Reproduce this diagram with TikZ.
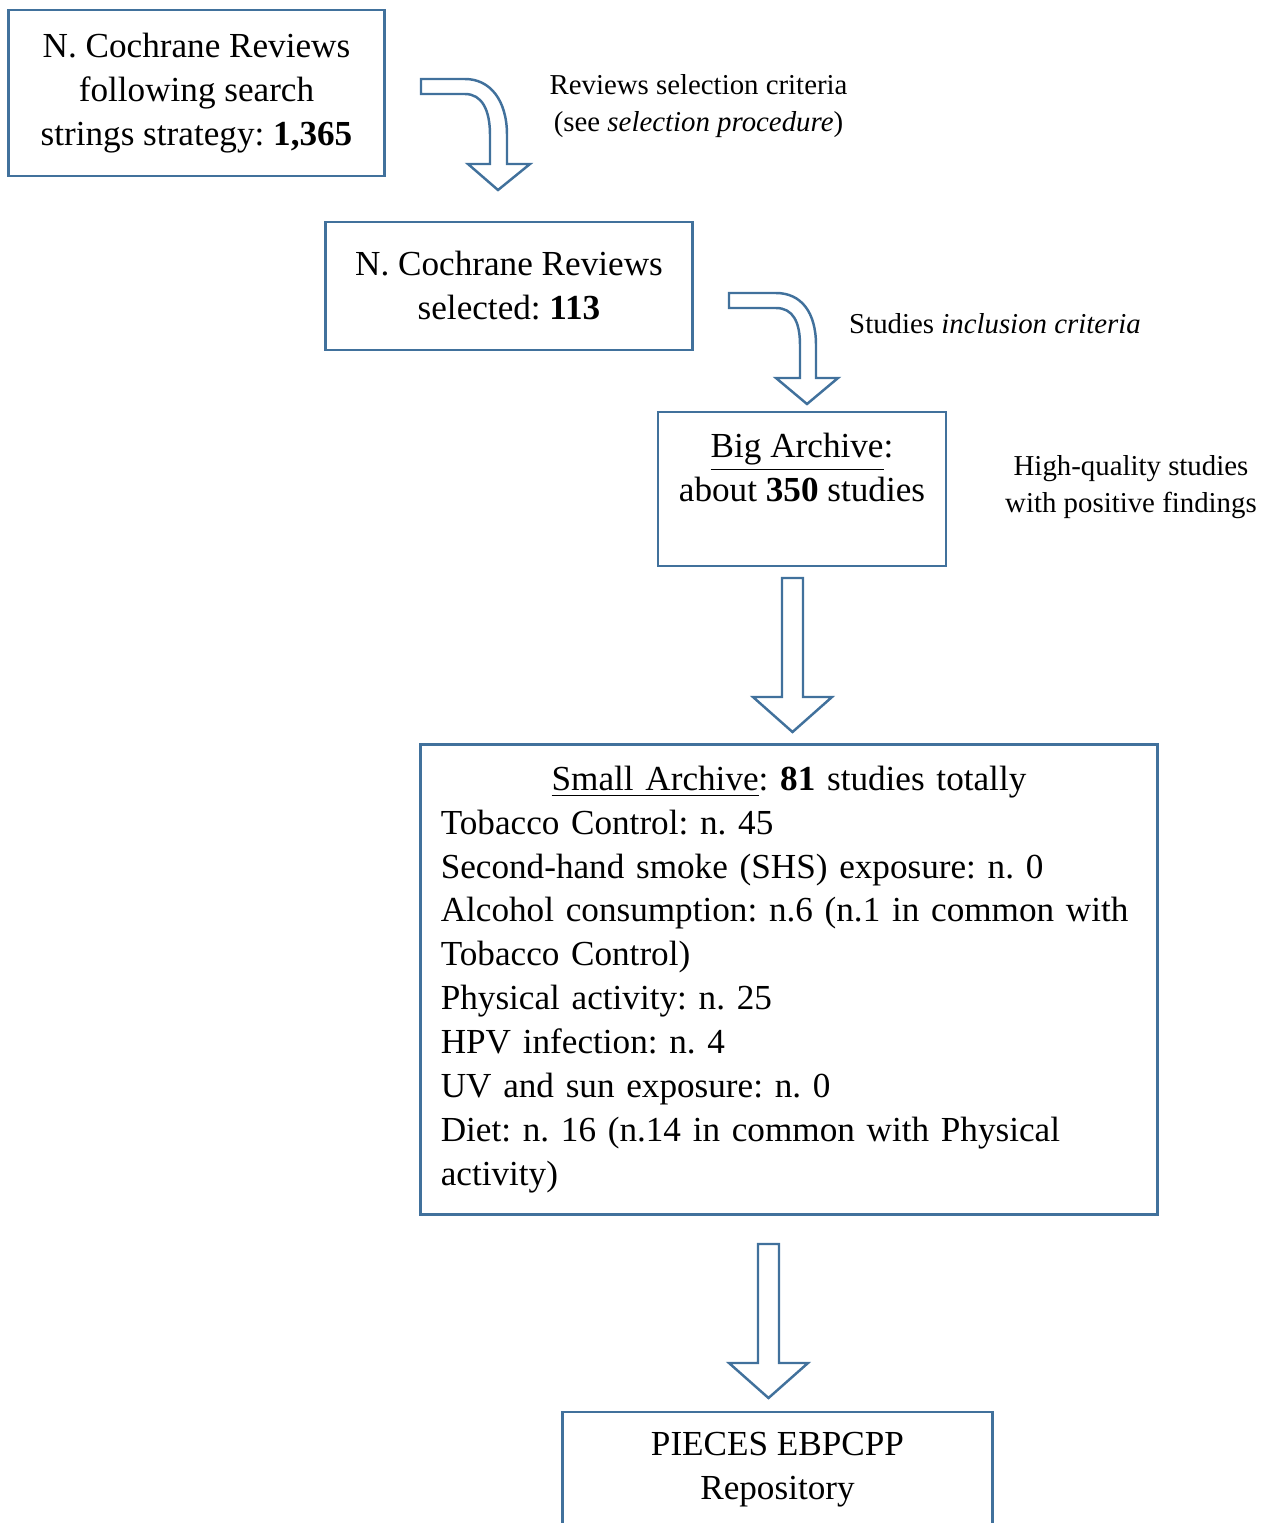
\documentclass[tikz,border=0pt]{standalone}
\usepackage{fontspec}
\setmainfont{Liberation Serif}
\frenchspacing
\definecolor{boxblue}{RGB}{65,113,156}
\tikzset{
  box/.style={draw=boxblue, line width=0.8pt, align=center, inner sep=0pt,
    font=\fontsize{10}{12.5}\selectfont},
  note/.style={align=center, font=\fontsize{8.2}{10.5}\selectfont},
  blockarrow/.style={draw=boxblue, line width=0.7pt, fill=white, line join=miter}
}
\begin{document}
\begin{tikzpicture}[x=0.01cm, y=-0.01cm]
\useasboundingbox (0,0) rectangle (1269,1523);

\node[box, minimum width=3.75cm, minimum height=1.66cm] (search) at (196.5,93)
  {N. Cochrane Reviews\\following search\\strings strategy: \textbf{1,365}};
\node[box, minimum width=3.66cm, minimum height=1.28cm] (selected) at (509,286)
  {N. Cochrane Reviews\\selected: \textbf{113}};
\node[box, minimum width=2.88cm, minimum height=1.54cm] (big) at (802,489)
  {\underline{Big Archive}:\\about \textbf{350} studies\\\mbox{}};
\node[box, minimum width=7.36cm, minimum height=4.69cm, text width=6.96cm, align=left] (small) at (789,979.5)
  {\makebox[\linewidth][c]{\underline{Small Archive}: \textbf{81} studies totally}\\
   Tobacco Control: n. 45\\
   Second-hand smoke (SHS) exposure: n. 0\\
   \mbox{Alcohol consumption: n.6 (n.1 in common with}\\
   Tobacco Control)\\
   Physical activity: n. 25\\
   HPV infection: n. 4\\
   UV and sun exposure: n. 0\\
   \mbox{Diet: n. 16 (n.14 in common with Physical}\\
   activity)};
\node[box, minimum width=4.29cm, minimum height=1.51cm] (repo) at (777.5,1487.5)
  {PIECES EBPCPP\\Repository\\\mbox{}};

\node[note] (crit1) at (698.5,106) {Reviews selection criteria\\(see \textit{selection procedure})};
\node[note] (crit2) at (995,324) {Studies \textit{inclusion criteria}};
\node[note] (crit3) at (1131,487) {High-quality studies\\with positive findings};

% curved arrows
\draw[blockarrow] (421,79) -- (465,79) .. controls (490,79) and (507,100) .. (507,135)
  -- (507,164) -- (530,164) -- (498,190) -- (468,164) -- (490,164) -- (490,135)
  .. controls (490,110) and (482,94) .. (465,94) -- (421,94) -- cycle;
\draw[blockarrow] (729,293) -- (776,293) .. controls (801,293) and (816,312) .. (816,345)
  -- (816,378) -- (838,378) -- (807,404) -- (776,378) -- (800,378) -- (800,345)
  .. controls (800,322) and (793,308) .. (776,308) -- (729,308) -- cycle;

% straight arrows
\draw[blockarrow] (782,578) -- (803,578) -- (803,697) -- (832,697) -- (792.5,732)
  -- (753,697) -- (782,697) -- cycle;
\draw[blockarrow] (758,1244) -- (779,1244) -- (779,1363) -- (808,1363) -- (768.5,1398)
  -- (729,1363) -- (758,1363) -- cycle;
\end{tikzpicture}
\end{document}
